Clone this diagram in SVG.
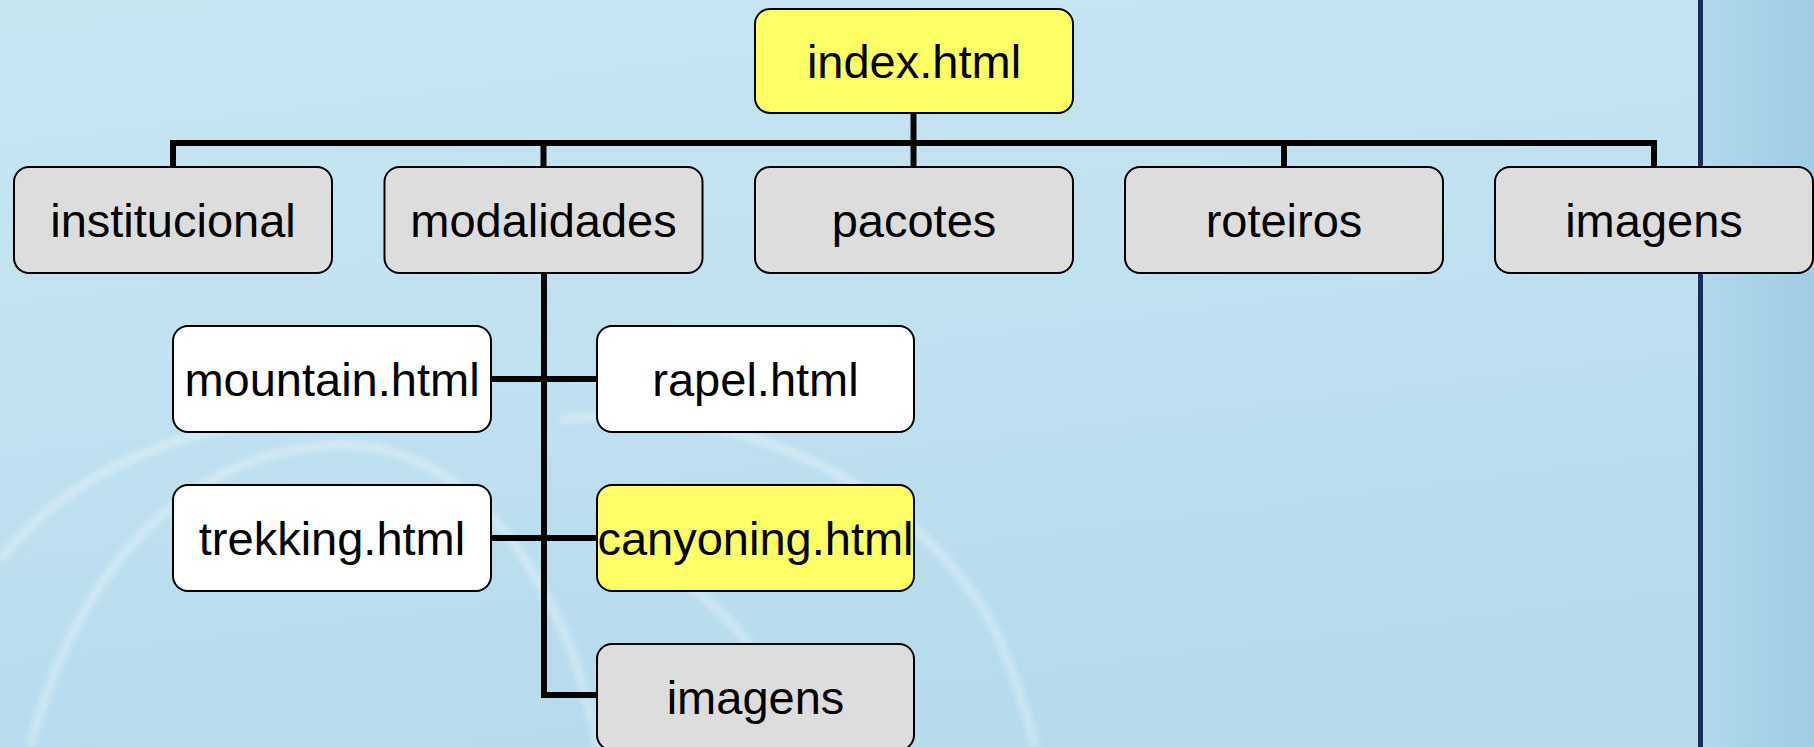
<svg xmlns="http://www.w3.org/2000/svg" width="1814" height="747" viewBox="0 0 1814 747">
<defs>
<linearGradient id="bg" x1="0" y1="0" x2="0.3" y2="1">
<stop offset="0" stop-color="#c8e6f2"/>
<stop offset="0.5" stop-color="#c0e1f0"/>
<stop offset="1" stop-color="#b6dbed"/>
</linearGradient>
<linearGradient id="bgR" x1="0" y1="0" x2="1" y2="0">
<stop offset="0" stop-color="#b2d9eb"/>
<stop offset="0.5" stop-color="#a6d2e8"/>
<stop offset="1" stop-color="#9fcde5"/>
</linearGradient>
<filter id="soft" x="-10%" y="-10%" width="120%" height="120%"><feGaussianBlur stdDeviation="2.5"/></filter>
<style>
.box{stroke:#000;stroke-width:2}
.y{fill:#ffff66}
.g{fill:#dddddd}
.w{fill:#ffffff}
.t{font-family:"Liberation Sans",Arial,sans-serif;font-size:47px;fill:#000;text-anchor:middle}
.c{stroke:#000;stroke-width:6;fill:none;stroke-linecap:butt;stroke-linejoin:miter}
.arc{fill:none;stroke:#ffffff;stroke-opacity:0.28;stroke-width:10}
</style>
</defs>
<rect x="0" y="0" width="1814" height="747" fill="url(#bg)"/>
<rect x="1703" y="0" width="111" height="747" fill="url(#bgR)"/>
<rect x="1698" y="0" width="5" height="747" fill="#1c2b5e"/>
<g id="decor" filter="url(#soft)">
<path class="arc" d="M 30 747 C 80 560 190 455 330 445 C 450 440 530 540 575 660 C 585 690 592 720 598 747"/>
<path class="arc" d="M 0 560 C 60 485 140 445 240 425"/>
<path class="arc" d="M 560 420 C 720 400 900 470 990 620 C 1010 660 1025 705 1035 747"/>
<path class="arc" d="M 650 560 C 690 580 720 610 750 645"/>
</g>
<g id="connectors">
<path class="c" d="M 913.5 113 V 143"/>
<path class="c" d="M 173 167 V 143 H 1654 V 167"/>
<path class="c" d="M 543.5 143 V 167"/>
<path class="c" d="M 913.5 143 V 167"/>
<path class="c" d="M 1284 143 V 167"/>
<path class="c" d="M 544 273 V 695 H 597"/>
<path class="c" d="M 491 379 H 597"/>
<path class="c" d="M 491 538 H 597"/>
</g>
<g id="n-index"><rect class="box y" x="755" y="9" width="318" height="104" rx="15"/><text class="t" x="914" y="78">index.html</text></g>
<g id="n-institucional"><rect class="box g" x="14" y="167" width="318" height="106" rx="15"/><text class="t" x="173" y="237">institucional</text></g>
<g id="n-modalidades"><rect class="box g" x="384.5" y="167" width="318" height="106" rx="15"/><text class="t" x="543.5" y="237">modalidades</text></g>
<g id="n-pacotes"><rect class="box g" x="755" y="167" width="318" height="106" rx="15"/><text class="t" x="914" y="237">pacotes</text></g>
<g id="n-roteiros"><rect class="box g" x="1125" y="167" width="318" height="106" rx="15"/><text class="t" x="1284" y="237">roteiros</text></g>
<g id="n-imagens"><rect class="box g" x="1495" y="167" width="318" height="106" rx="15"/><text class="t" x="1654" y="237">imagens</text></g>
<g id="n-mountain"><rect class="box w" x="173" y="326" width="318" height="106" rx="15"/><text class="t" x="332" y="396">mountain.html</text></g>
<g id="n-rapel"><rect class="box w" x="597" y="326" width="317" height="106" rx="15"/><text class="t" x="755.5" y="396">rapel.html</text></g>
<g id="n-trekking"><rect class="box w" x="173" y="485" width="318" height="106" rx="15"/><text class="t" x="332" y="555">trekking.html</text></g>
<g id="n-canyoning"><rect class="box y" x="597" y="485" width="317" height="106" rx="15"/><text class="t" x="755.5" y="555">canyoning.html</text></g>
<g id="n-imagens2"><rect class="box g" x="597" y="644" width="317" height="106" rx="15"/><text class="t" x="755.5" y="714">imagens</text></g>
</svg>
